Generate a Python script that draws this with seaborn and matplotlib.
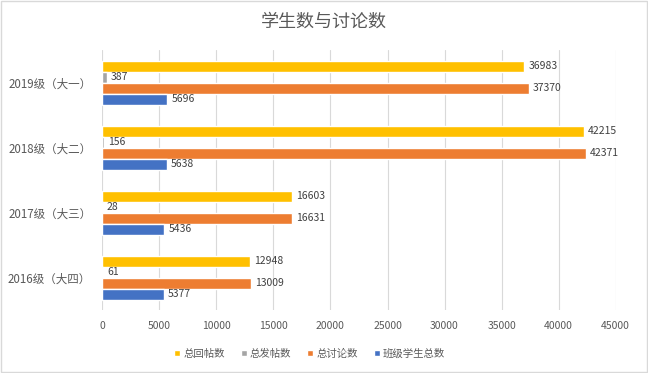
import pandas as pd
import matplotlib.pyplot as plt
import seaborn as sns

sns.set_theme(style="white")
plt.rcParams['font.family'] = ['Noto Sans CJK SC', 'DejaVu Sans']

grades = ['2019级（大一）', '2018级（大二）', '2017级（大三）', '2016级（大四）']
replies = [36983, 42215, 16603, 12948]
posts = [387, 156, 28, 61]
discussions = [37370, 42371, 16631, 13009]
students = [5696, 5638, 5436, 5377]

series = ['总回帖数', '总发帖数', '总讨论数', '班级学生总数']
colors = ['#FFC000', '#A5A5A5', '#ED7D31', '#4472C4']

df = pd.DataFrame({'年级': grades, '总回帖数': replies, '总发帖数': posts,
                   '总讨论数': discussions, '班级学生总数': students})
long = df.melt(id_vars='年级', var_name='类别', value_name='数量')

fig, ax = plt.subplots(figsize=(6.48, 3.73), dpi=100)
fig.subplots_adjust(left=0.158, right=0.95, top=0.865, bottom=0.168)

sns.barplot(data=long, y='年级', x='数量', hue='类别', order=grades,
            hue_order=series, palette=colors, orient='h', width=0.68,
            saturation=1, ax=ax)

for c in ax.containers:
    ax.bar_label(c, padding=3, fontsize=7.5, color='#404040')

ax.set_xlim(0, 45000)
ax.set_xticks(range(0, 45001, 5000))
ax.grid(axis='x', color='#d9d9d9', linewidth=0.8)
ax.set_axisbelow(True)
for s in ax.spines.values():
    s.set_visible(False)
ax.tick_params(axis='x', labelsize=7.5, colors='#595959', length=0, pad=8)
ax.tick_params(axis='y', labelsize=8.3, colors='#595959', length=0, pad=8)
ax.set_xlabel('')
ax.set_ylabel('')
fig.suptitle('学生数与讨论数', fontsize=13, color='#595959', x=0.5, y=0.943, va='center')

ax.get_legend().remove()
handles, labels = ax.get_legend_handles_labels()
fig.legend(handles, labels, loc='center', bbox_to_anchor=(0.478, 0.052), ncol=4,
           frameon=False, fontsize=7.5, handlelength=0.6, handleheight=0.6,
           handletextpad=0.3, columnspacing=1.5, labelcolor='#595959')

fig.patches.append(plt.Rectangle((0.002, 0.003), 0.996, 0.994, transform=fig.transFigure,
                                 fill=False, edgecolor='#d9d9d9', linewidth=1))

fig.savefig('out.png', dpi=100)
